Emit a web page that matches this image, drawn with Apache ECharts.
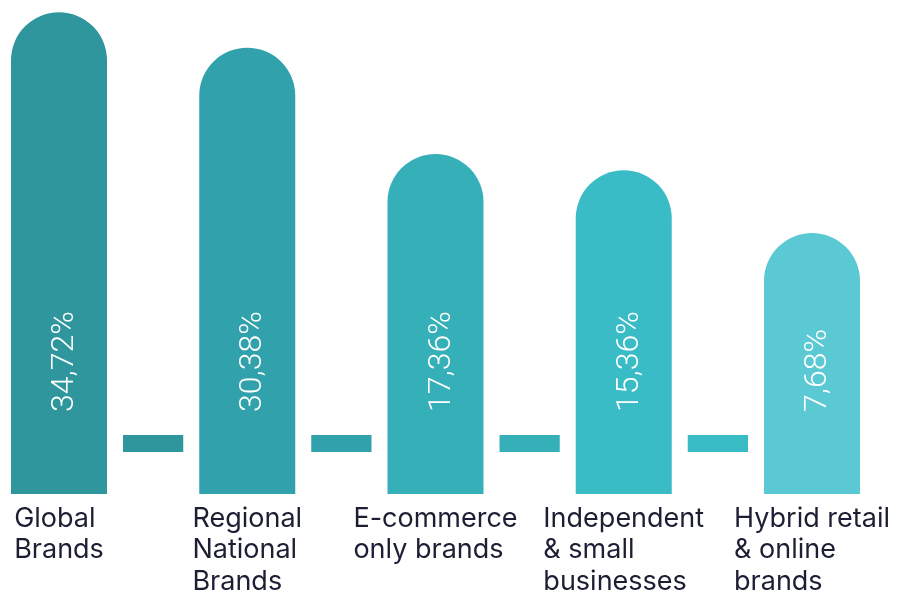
<!DOCTYPE html>
<html>
<head>
<meta charset="utf-8">
<script src="https://cdn.jsdelivr.net/npm/echarts@6/dist/echarts.min.js"></script>
<style>
  html, body { margin: 0; padding: 0; background: #ffffff; }
  #chart { width: 900px; height: 594px; }
</style>
</head>
<body>
<div id="chart"></div>
<script>
// ---- data ----
const categories = [
  'Global\nBrands',
  'Regional\nNational\nBrands',
  'E-commerce\nonly brands',
  'Independent\n& small\nbusinesses',
  'Hybrid retail\n& online\nbrands'
];
const values = [34.72, 30.38, 17.36, 15.36, 7.68];
const valueLabels = ['34,72%', '30,38%', '17,36%', '15,36%', '7,68%'];

// ---- styles ----
const barColors = ['#2E969C', '#31A2AB', '#35B0B8', '#3ABCC6', '#5BC9D3'];
const axisMin = -24.3;
const axisMax = 35;
const barWidth = 96;
const catFont = '400 27px Inter';
const valFont = '300 32px Roboto';

const measureCtx = document.createElement('canvas').getContext('2d');
function blockWidth(text, font) {
  measureCtx.font = font;
  return Math.max.apply(null, text.split('\n').map(function (l) { return measureCtx.measureText(l).width; }));
}

const chart = echarts.init(document.getElementById('chart'), null, { renderer: 'canvas' });

function renderItem(params, api) {
  const i = api.value(0);
  const v = api.value(1);
  const base = api.coord([i, axisMin]);
  const top = api.coord([i, v]);
  const half = barWidth / 2;
  const children = [];
  children.push({
    type: 'rect',
    shape: { x: base[0] - half, y: top[1], width: barWidth, height: base[1] - top[1], r: [half, half, 0, 0] },
    style: { fill: barColors[i] }
  });
  if (i < categories.length - 1) {
    const next = api.coord([i + 1, axisMin]);
    const x0 = base[0] + half + 16;
    const x1 = next[0] - half - 16;
    children.push({
      type: 'rect',
      shape: { x: x0, y: base[1] - 59, width: x1 - x0, height: 17 },
      style: { fill: barColors[i] }
    });
  }
  children.push({
    type: 'text',
    x: base[0] + 6,
    y: base[1] - 82,
    rotation: Math.PI / 2,
    style: { text: valueLabels[i], fill: '#ffffff', font: valFont, align: 'left', verticalAlign: 'middle' }
  });
  const bw = blockWidth(categories[i], catFont);
  children.push({
    type: 'text',
    x: base[0] - bw / 2,
    y: base[1] + 9,
    style: { text: categories[i], fill: '#1c1f33', font: catFont, align: 'left', verticalAlign: 'top', lineHeight: 31.5 }
  });
  return { type: 'group', children: children };
}

chart.setOption({
  animation: false,
  grid: { left: 59, right: 88, top: 10, bottom: 100 },
  xAxis: { type: 'category', data: categories, boundaryGap: false, show: false },
  yAxis: { type: 'value', min: axisMin, max: axisMax, show: false },
  series: [{
    type: 'custom',
    renderItem: renderItem,
    data: values.map(function (v, i) { return [i, v]; }),
    clip: false
  }]
});
</script>
</body>
</html>
